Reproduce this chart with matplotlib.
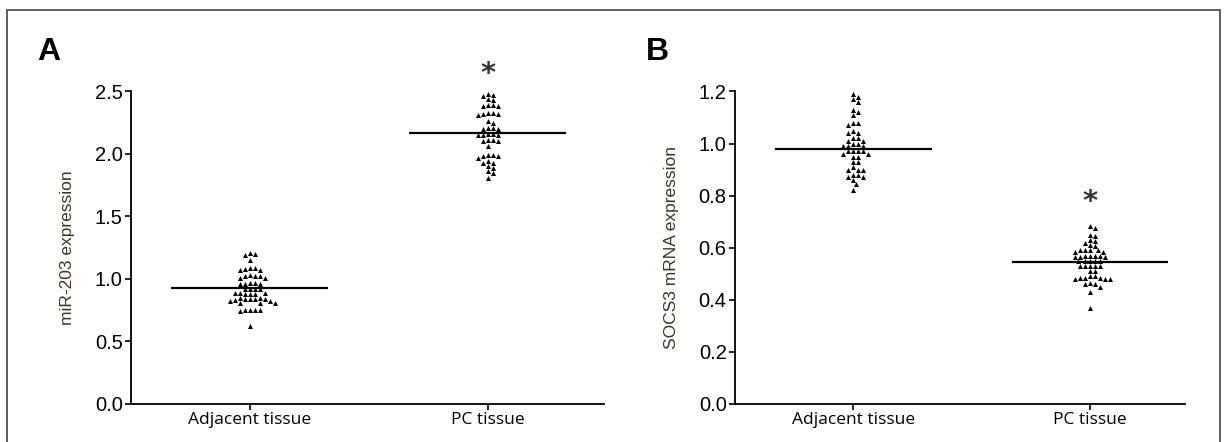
import numpy as np
import matplotlib
matplotlib.use("Agg")
import matplotlib.pyplot as plt
from matplotlib.patches import Rectangle

# значения
groups = ["Adjacent tissue", "PC tissue"]

adj_mir = [1.21, 1.20, 1.19, 1.15, 1.09, 1.09, 1.08, 1.07, 1.07,
           1.03, 1.02, 1.02, 1.02, 1.01, 1.01, 0.97, 0.97, 0.96, 0.96, 0.96,
           0.92, 0.92, 0.92, 0.92, 0.89, 0.89, 0.89, 0.88, 0.88, 0.88,
           0.85, 0.85, 0.84, 0.84, 0.84, 0.84, 0.83, 0.82, 0.82, 0.81, 0.81, 0.81,
           0.75, 0.75, 0.75, 0.75, 0.74, 0.62]
pc_mir = [2.48, 2.47, 2.46, 2.44, 2.43, 2.39, 2.39, 2.38, 2.38,
          2.33, 2.33, 2.32, 2.32, 2.31, 2.26, 2.25, 2.21, 2.21, 2.20, 2.20,
          2.16, 2.16, 2.15, 2.15, 2.15, 2.11, 2.11, 2.10, 2.10, 2.06,
          1.99, 1.99, 1.98, 1.98, 1.97, 1.94, 1.93, 1.93, 1.90, 1.89,
          1.86, 1.85, 1.81]
adj_socs = [1.19, 1.18, 1.17, 1.16, 1.13, 1.12, 1.11, 1.08, 1.08, 1.07,
            1.05, 1.04, 1.04, 1.02, 1.02, 1.01, 1.01, 1.00, 1.00,
            0.99, 0.99, 0.99, 0.97, 0.97, 0.97, 0.97, 0.96, 0.96, 0.95, 0.95,
            0.93, 0.93, 0.91, 0.90, 0.90, 0.90, 0.88, 0.88, 0.87, 0.87,
            0.86, 0.845, 0.82]
pc_socs = [0.685, 0.675, 0.65, 0.645, 0.63, 0.625, 0.62, 0.61, 0.605,
           0.59, 0.59, 0.59, 0.59, 0.585, 0.585, 0.57, 0.57, 0.57, 0.57,
           0.565, 0.565, 0.565, 0.55, 0.55, 0.55, 0.55, 0.55,
           0.53, 0.53, 0.53, 0.53, 0.53, 0.51, 0.51,
           0.49, 0.49, 0.485, 0.485, 0.485, 0.48, 0.48, 0.48,
           0.465, 0.46, 0.46, 0.45, 0.43, 0.37]

mir_means = [0.93, 2.17]
socs_means = [0.98, 0.545]
mir_star = 2.64
socs_star = 0.775


def swarm(values, ypx, xpx=237.0, size=4.6, step=0.021):
    # простой beeswarm: ставим точку как можно ближе к центру без наложения
    placed = []
    offs = np.zeros(len(values))
    order = np.argsort(values)[::-1]
    cands = [0.0]
    for k in range(1, 20):
        cands += [k * step / 2, -k * step / 2]
    for i in order:
        v = values[i]
        for c in cands:
            ok = True
            for (pc, pv) in placed:
                if ((c - pc) * xpx) ** 2 + ((v - pv) * ypx) ** 2 < size ** 2:
                    ok = False
                    break
            if ok:
                offs[i] = c
                placed.append((c, v))
                break
    return offs


fig = plt.figure(figsize=(12.27, 4.42), dpi=100)
fig.patches.append(Rectangle((7 / 1227, -0.1), 1213 / 1227, 1.1 - 10 / 442,
                             transform=fig.transFigure, fill=False,
                             edgecolor='#444444', linewidth=1.2))

panels = [
    dict(pos=[0.1068, 0.086, 0.3855, 0.707], data=[adj_mir, pc_mir], means=mir_means,
         ylim=2.5, ticks=[0.0, 0.5, 1.0, 1.5, 2.0, 2.5], ylabel='miR-203 expression',
         star=(2, mir_star), letter='A', lx=0.030, xmax=2.49),
    dict(pos=[0.599, 0.086, 0.3667, 0.707], data=[adj_socs, pc_socs], means=socs_means,
         ylim=1.2, ticks=[0.0, 0.2, 0.4, 0.6, 0.8, 1.0, 1.2], ylabel='SOCS3 mRNA expression',
         star=(2, socs_star), letter='B', lx=0.526, xmax=2.40),
]

for p in panels:
    ax = fig.add_axes(p['pos'])
    ypx = 0.707 * 442 / p['ylim']
    for i, vals in enumerate(p['data']):
        vals = np.array(vals)
        x = i + 1 + swarm(vals, ypx)
        ax.scatter(x, vals, marker='^', s=13, color='black', linewidths=0, zorder=3)
        ax.hlines(p['means'][i], i + 1 - 0.33, i + 1 + 0.33, color='black', linewidth=1.6, zorder=4)
    ax.text(p['star'][0], p['star'][1], '*', ha='center', va='center', fontsize=21,
            color='#333333', clip_on=False, family='DejaVu Sans', fontweight='bold')
    ax.set_xlim(0.5, p['xmax'])
    ax.set_ylim(0, p['ylim'])
    ax.set_xticks([1, 2])
    ax.set_xticklabels(groups, family='Open Sans', fontsize=12.5)
    ax.set_yticks(p['ticks'])
    ax.set_yticklabels([f'{t:.1f}' for t in p['ticks']], family='Liberation Sans', fontsize=14.5)
    ax.set_ylabel(p['ylabel'], family='Liberation Sans', fontsize=12.5, color='#3a3525', labelpad=14)
    for s in ['top', 'right']:
        ax.spines[s].set_visible(False)
    for s in ['left', 'bottom']:
        ax.spines[s].set_linewidth(1.3)
    ax.tick_params(direction='out', length=4, width=1.2, pad=2)
    fig.text(p['lx'], 0.882, p['letter'], fontsize=23, fontweight='bold',
             family='Liberation Sans', va='center')

fig.savefig('out.png', dpi=100)
